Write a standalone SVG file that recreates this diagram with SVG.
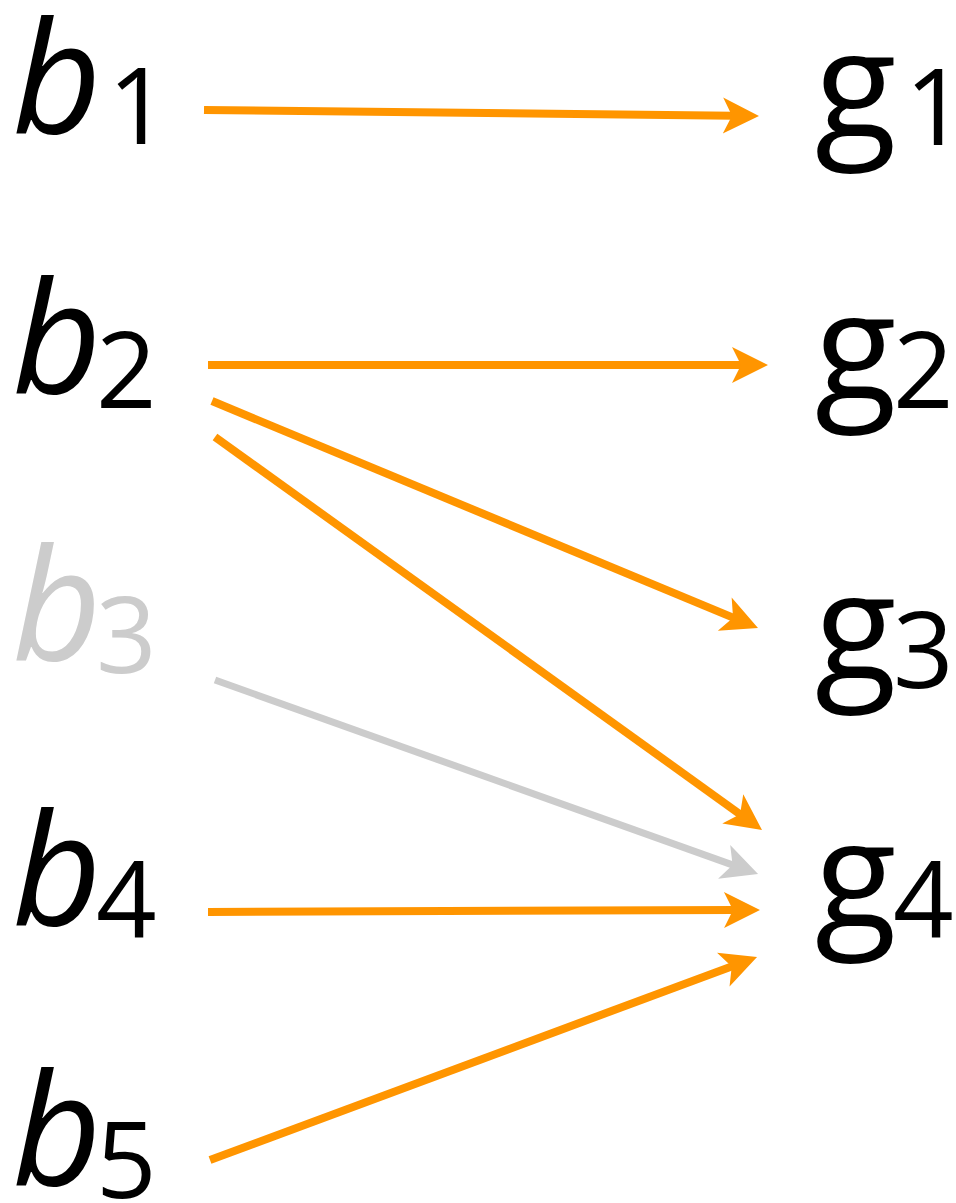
<svg xmlns="http://www.w3.org/2000/svg" width="956" height="1203" viewBox="0 0 956 1203">
<style>
.var{font-family:"Open Sans","Liberation Sans",sans-serif;font-style:italic;font-size:155px;fill:#000}
.gv{font-family:"Open Sans","Liberation Sans",sans-serif;font-size:150px;fill:#000}
.sub{font-family:"Open Sans","Liberation Sans",sans-serif;font-size:106px;fill:#000}
.dim{fill:#cccccc}
.e{stroke:#ff9500;stroke-width:8;fill:none}
.eg{stroke:#cccccc;stroke-width:7;fill:none}
</style>
<defs>
<marker id="ah" markerUnits="userSpaceOnUse" viewBox="-37 -19 38 38" refX="-25" refY="0" markerWidth="38" markerHeight="38" orient="auto" overflow="visible">
<path d="M0,0 L-36,-18 L-27,0 L-36,18 Z" fill="#ff9500"/>
</marker>
<marker id="ahg" markerUnits="userSpaceOnUse" viewBox="-37 -19 38 38" refX="-25" refY="0" markerWidth="38" markerHeight="38" orient="auto" overflow="visible">
<path d="M0,0 L-36,-18 L-27,0 L-36,18 Z" fill="#cccccc"/>
</marker>
</defs>
<g id="connectors">
<line class="e" x1="204" y1="110" x2="734" y2="115.7" marker-end="url(#ah)"/>
<line class="e" x1="208" y1="365" x2="743" y2="365" marker-end="url(#ah)"/>
<line class="e" x1="212" y1="401" x2="734.9" y2="618.4" marker-end="url(#ah)"/>
<line class="e" x1="215" y1="437" x2="741.7" y2="815.4" marker-end="url(#ah)"/>
<line class="eg" x1="215" y1="680" x2="734.5" y2="865.6" marker-end="url(#ahg)"/>
<line class="e" x1="208" y1="912" x2="735" y2="910" marker-end="url(#ah)"/>
<line class="e" x1="210" y1="1160" x2="733.6" y2="965.7" marker-end="url(#ah)"/>
</g>
<g id="b1"><text class="var" x="12" y="133">b</text><text class="sub" x="108" y="144">1</text></g>
<g id="b2"><text class="var" x="12" y="393">b</text><text class="sub" x="96" y="408">2</text></g>
<g id="b3"><text class="var dim" x="12" y="660">b</text><text class="sub dim" x="96" y="673">3</text></g>
<g id="b4"><text class="var" x="12" y="925">b</text><text class="sub" x="96" y="938">4</text></g>
<g id="b5"><text class="var" x="12" y="1185">b</text><text class="sub" x="96" y="1198">5</text></g>
<g id="g1"><text class="gv" x="815" y="138">g</text><text class="sub" x="905" y="145">1</text></g>
<g id="g2"><text class="gv" x="815" y="400">g</text><text class="sub" x="893" y="408">2</text></g>
<g id="g3"><text class="gv" x="815" y="680">g</text><text class="sub" x="893" y="688">3</text></g>
<g id="g4"><text class="gv" x="815" y="928">g</text><text class="sub" x="893" y="938">4</text></g>
</svg>
